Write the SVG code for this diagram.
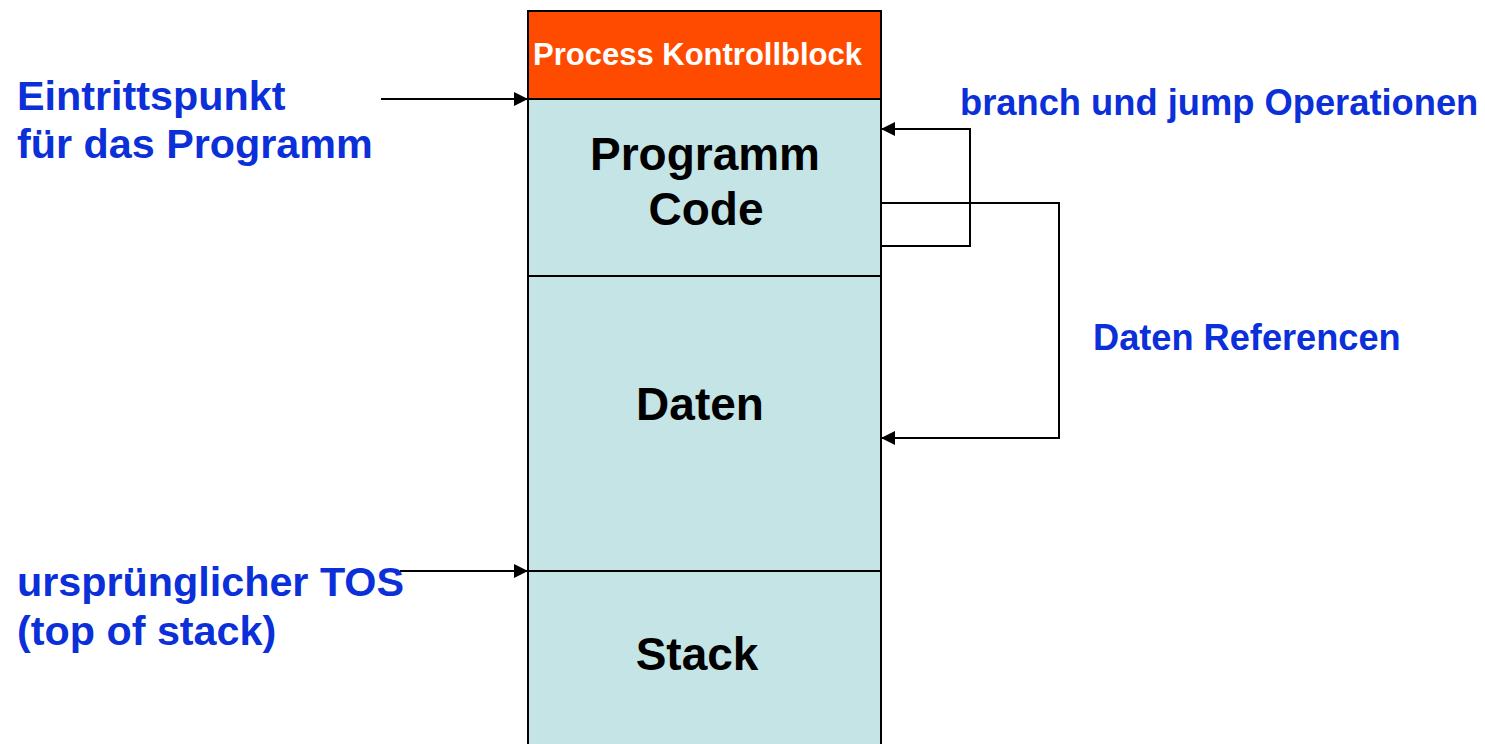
<svg xmlns="http://www.w3.org/2000/svg" width="1485" height="744" viewBox="0 0 1485 744">
<style>
.seg{fill:#c4e4e6;stroke:#000;stroke-width:2}
.pcb{fill:#ff4b00;stroke:#000;stroke-width:2}
.lbl{font-family:"Liberation Sans",Arial,sans-serif;font-weight:bold;fill:#000;font-size:46px;text-anchor:middle}
.blue{font-family:"Liberation Sans",Arial,sans-serif;font-weight:bold;fill:#0b2fd8}
.con{fill:none;stroke:#000;stroke-width:2}
</style>
<defs>
<marker id="ah" viewBox="0 0 14 14" refX="14" refY="7" markerWidth="14" markerHeight="14" markerUnits="userSpaceOnUse" orient="auto">
<path d="M0,0 L14,7 L0,14 Z" fill="#000"/>
</marker>
</defs>
<rect width="1485" height="744" fill="#fff"/>
<g id="pcb">
<rect class="pcb" x="528" y="11" width="353" height="88"/>
<text x="533" y="65" font-family="Liberation Sans, Arial, sans-serif" font-weight="bold" font-size="31" fill="#fff">Process Kontrollblock</text>
</g>
<g id="code">
<rect class="seg" x="528" y="99" width="353" height="177"/>
<text class="lbl" x="705" y="170">Programm</text>
<text class="lbl" x="706" y="225">Code</text>
</g>
<g id="daten">
<rect class="seg" x="528" y="276" width="353" height="295"/>
<text class="lbl" x="700" y="420">Daten</text>
</g>
<g id="stack">
<rect class="seg" x="528" y="571" width="353" height="180"/>
<text class="lbl" x="697" y="670">Stack</text>
</g>
<g id="connectors">
<path class="con" d="M381,99 H528" marker-end="url(#ah)"/>
<path class="con" d="M400,571 H528" marker-end="url(#ah)"/>
<path class="con" d="M881,246 H970 V129 H881" marker-end="url(#ah)"/>
<path class="con" d="M881,203 H1059 V438 H881" marker-end="url(#ah)"/>
</g>
<g id="labels">
<text class="blue" x="17" y="110" font-size="41.3">Eintrittspunkt</text>
<text class="blue" x="17" y="158" font-size="41.3">für das Programm</text>
<text class="blue" x="960" y="115" font-size="36.3">branch und jump Operationen</text>
<text class="blue" x="1093" y="350" font-size="36.2">Daten Referencen</text>
<text class="blue" x="17" y="596" font-size="41.3">ursprünglicher TOS</text>
<text class="blue" x="17" y="645" font-size="41.3">(top of stack)</text>
</g>
</svg>
